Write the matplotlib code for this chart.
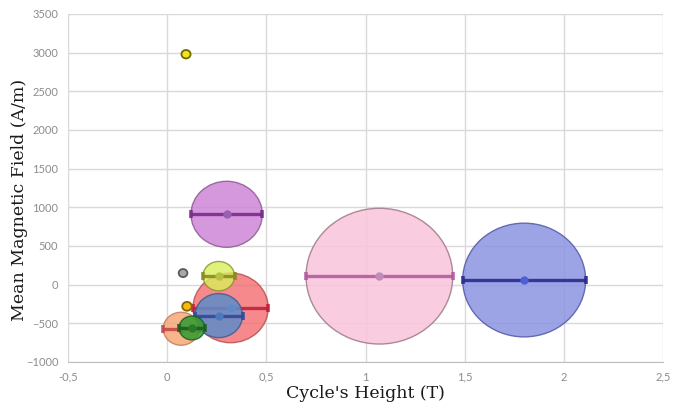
import matplotlib
matplotlib.use("Agg")
from matplotlib import pyplot as plt
from matplotlib.patches import Ellipse
from matplotlib.ticker import FuncFormatter
import numpy as np

# Cycle height [T], mean magnetic field [A/m] and spread of the cycle height [T]
height = [0.095, 0.30, 0.08, 0.32, 0.26, 0.26, 0.10, 0.07, 0.125, 1.07, 1.80]
field = [2980, 910, 150, -300, -400, 110, -280, -570, -560, 110, 60]
spread = [0.023, 0.18, 0.022, 0.19, 0.12, 0.08, 0.024, 0.09, 0.065, 0.37, 0.31]

# bubble fill, bubble edge, bar colour, centre dot colour
fills = ["#f2e418", "#cf86d6", "#a8a8a8", "#f36c70", "#5e8cca", "#d9ef5a",
         "#f6b90e", "#f7a877", "#2f9a2f", "#f9c4da", "#8b94e2"]
edges = ["#6e6a00", "#8e5a96", "#5a5a5a", "#b34a50", "#3d5d8e", "#8c8c2c",
         "#8a6200", "#c08060", "#1e5e1e", "#a07888", "#5458a8"]
bars = ["#6e6a00", "#7a2a8c", "#5a5a5a", "#c0203f", "#34489a", "#8a8a20",
        "#8a6200", "#c04a4a", "#1e5e1e", "#b45a9e", "#2a2a8c"]
dots = ["#c8c000", "#9a5fb0", "#8a8a8a", "#5e80c0", "#4c78bc", "#b8c040",
        "#d89a00", "#e08a60", "#2a7a2a", "#c08cb8", "#4a62d6"]
alphas = [1.0, 0.85, 1.0, 0.8, 0.85, 0.8, 1.0, 0.85, 0.85, 0.85, 0.85]

xlim = (-0.5, 2.5)
ylim = (-1000, 3500)

fig = plt.figure(figsize=(6.8, 4.09), dpi=100)
ax = fig.add_axes([0.1, 1 - 362 / 409, 0.875, (362 - 14) / 409])
ax.set_xlim(*xlim)
ax.set_ylim(*ylim)

# pixels per data unit, so bubbles come out (nearly) round on screen
bbox = ax.get_window_extent()
px_x = bbox.width / (xlim[1] - xlim[0])
px_y = bbox.height / (ylim[1] - ylim[0])
squash = 0.925

for i in range(len(height)):
    w = 2 * spread[i]
    h = w * px_x * squash / px_y
    z = 3 + i
    ax.add_patch(Ellipse((height[i], field[i]), w, h, facecolor=fills[i],
                         edgecolor=edges[i], lw=1.0 if i not in (0, 2, 6) else 1.3,
                         alpha=alphas[i], zorder=z))
    if spread[i] > 0.05:
        ax.errorbar(height[i], field[i], xerr=spread[i], fmt="none",
                    ecolor=bars[i], elinewidth=2.4, capsize=3, capthick=2.6,
                    alpha=0.9, zorder=z + 0.1)
        ax.plot(height[i], field[i], "o", ms=6, color=dots[i],
                mec="none", zorder=z + 0.2)

ax.set_xticks(np.arange(-0.5, 2.51, 0.5))
ax.set_yticks(np.arange(-1000, 3501, 500))
ax.xaxis.set_major_formatter(FuncFormatter(lambda v, p: f"{v:g}".replace(".", ",")))
ax.grid(True, color="#d9d9d9", lw=1)
ax.set_axisbelow(True)
for s in ["top", "right", "left"]:
    ax.spines[s].set_visible(False)
ax.spines["bottom"].set_color("#bfbfbf")
ax.tick_params(length=0, labelsize=8, labelcolor="#8c8c8c")
ax.tick_params(axis="y", pad=7)
ax.tick_params(axis="x", pad=7)
for lab in ax.get_xticklabels() + ax.get_yticklabels():
    lab.set_family("Lato")

ax.set_xlabel("Cycle's Height (T)", family="DejaVu Serif", fontsize=12.5,
              color="#1a1a1a")
ax.set_ylabel("Mean Magnetic Field (A/m)", family="DejaVu Serif", fontsize=12.5,
              color="#1a1a1a")
ax.xaxis.set_label_coords(0.5, -0.066)
ax.yaxis.set_label_coords(-0.067, 0.466)

fig.savefig("out.png", dpi=100)
